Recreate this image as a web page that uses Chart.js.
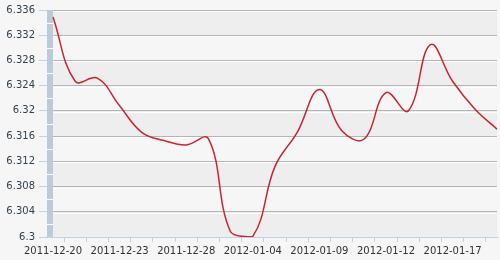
<!DOCTYPE html>
<html>
<head>
<meta charset="utf-8">
<script src="https://cdn.jsdelivr.net/npm/chart.js@4.4.1/dist/chart.umd.min.js"></script>
<style>
    html, body { margin: 0; padding: 0; background: #f6f6f6; }
    #wrap { width: 500px; height: 260px; position: relative; }
</style>
</head>
<body>
<div id="wrap"><canvas id="rateChart"></canvas></div>
<script>
const dates = [
    '2011-12-20', '2011-12-21', '2011-12-22', '2011-12-23', '2011-12-26', '2011-12-27',
    '2011-12-28', '2011-12-29', '2011-12-30', '2012-01-04', '2012-01-05', '2012-01-06',
    '2012-01-09', '2012-01-10', '2012-01-11', '2012-01-12', '2012-01-13', '2012-01-16',
    '2012-01-17', '2012-01-18', '2012-01-19'
];
const rates = [
    6.3349, 6.3247, 6.3252, 6.3208, 6.3166, 6.3153, 6.3146,
    6.3156, 6.3008, 6.3001, 6.3112, 6.3166, 6.3234, 6.3169,
    6.3155, 6.3229, 6.3200, 6.3305, 6.3247, 6.3203, 6.3171
];
const yTicks = [6.3, 6.304, 6.308, 6.312, 6.316, 6.32, 6.324, 6.328, 6.332, 6.336];
const labelEvery = 3;

// Format axis value without trailing zeros
function formatRate(value) {
    return String(Number(value.toFixed(3)));
}

// Alternating bands, grid highlight and the ruler bar on the left
const bandsPlugin = {
    id: 'bands',
    beforeDraw(chart) {
        const ctx = chart.ctx;
        const area = chart.chartArea;
        const y = chart.scales.y;
        ctx.save();
        ctx.fillStyle = '#f6f6f6';
        ctx.fillRect(0, 0, chart.width, chart.height);
        for (let i = 0; i < yTicks.length - 1; i++) {
            const top = y.getPixelForValue(yTicks[i + 1]);
            const bottom = y.getPixelForValue(yTicks[i]);
            ctx.fillStyle = i % 2 === 0 ? '#eeeeee' : '#f6f6f6';
            ctx.fillRect(area.left, top, area.right - area.left, bottom - top);
        }
        ctx.restore();
    },
    beforeDatasetsDraw(chart) {
        const ctx = chart.ctx;
        const area = chart.chartArea;
        const y = chart.scales.y;
        ctx.save();
        // white highlight under each grid line
        ctx.strokeStyle = '#ffffff';
        ctx.lineWidth = 1;
        yTicks.slice(1).forEach(v => {
            const py = Math.round(y.getPixelForValue(v)) + 1.5;
            ctx.beginPath();
            ctx.moveTo(area.left, py);
            ctx.lineTo(area.right, py);
            ctx.stroke();
        });
        // ruler bar
        const top = y.getPixelForValue(yTicks[yTicks.length - 1]);
        ctx.fillStyle = '#bccbdb';
        ctx.fillRect(area.left - 6, top, 6, area.bottom - top);
        ctx.strokeStyle = '#ffffff';
        for (let i = 0; i < yTicks.length - 1; i++) {
            const py = Math.round(y.getPixelForValue((yTicks[i] + yTicks[i + 1]) / 2)) + 0.5;
            ctx.beginPath();
            ctx.moveTo(area.left - 6, py);
            ctx.lineTo(area.left, py);
            ctx.stroke();
        }
        ctx.restore();
    }
};

const ctx = document.getElementById('rateChart').getContext('2d');
new Chart(ctx, {
    type: 'line',
    data: {
        labels: dates,
        datasets: [{
            label: 'USD/CNY',
            data: rates,
            borderColor: '#c8262e',
            borderWidth: 1.5,
            tension: 0.4,
            pointRadius: 0,
            fill: false
        }]
    },
    options: {
        responsive: true,
        maintainAspectRatio: false,
        animation: false,
        layout: {
            padding: { top: 4, right: 3, left: 0, bottom: 0 }
        },
        plugins: {
            legend: { display: false },
            tooltip: { enabled: false }
        },
        scales: {
            x: {
                offset: false,
                grid: {
                    offset: true,
                    drawOnChartArea: false,
                    drawTicks: true,
                    tickLength: 5,
                    tickColor: '#c3d2e0'
                },
                border: { display: true, color: '#c3d2e0', width: 1 },
                ticks: {
                    autoSkip: false,
                    maxRotation: 0,
                    padding: 3,
                    color: '#333333',
                    font: { family: 'DejaVu Sans', size: 10 },
                    callback: function(value, index) {
                        return index % labelEvery === 0 ? dates[index] : '';
                    }
                }
            },
            y: {
                min: yTicks[0],
                max: yTicks[yTicks.length - 1],
                afterBuildTicks: function(axis) {
                    axis.ticks = yTicks.map(v => ({ value: v }));
                },
                afterFit: function(axis) {
                    axis.width = 53;
                },
                grid: {
                    color: function(context) {
                        return context.tick && context.tick.value === yTicks[0] ? 'rgba(0,0,0,0)' : '#b4b4b4';
                    },
                    tickColor: '#c3d2e0',
                    tickLength: 14
                },
                border: { display: false },
                ticks: {
                    padding: 4,
                    color: '#34414f',
                    font: { family: 'DejaVu Sans', size: 10 },
                    callback: function(value) {
                        return formatRate(value);
                    }
                }
            }
        }
    },
    plugins: [bandsPlugin]
});
</script>
</body>
</html>
